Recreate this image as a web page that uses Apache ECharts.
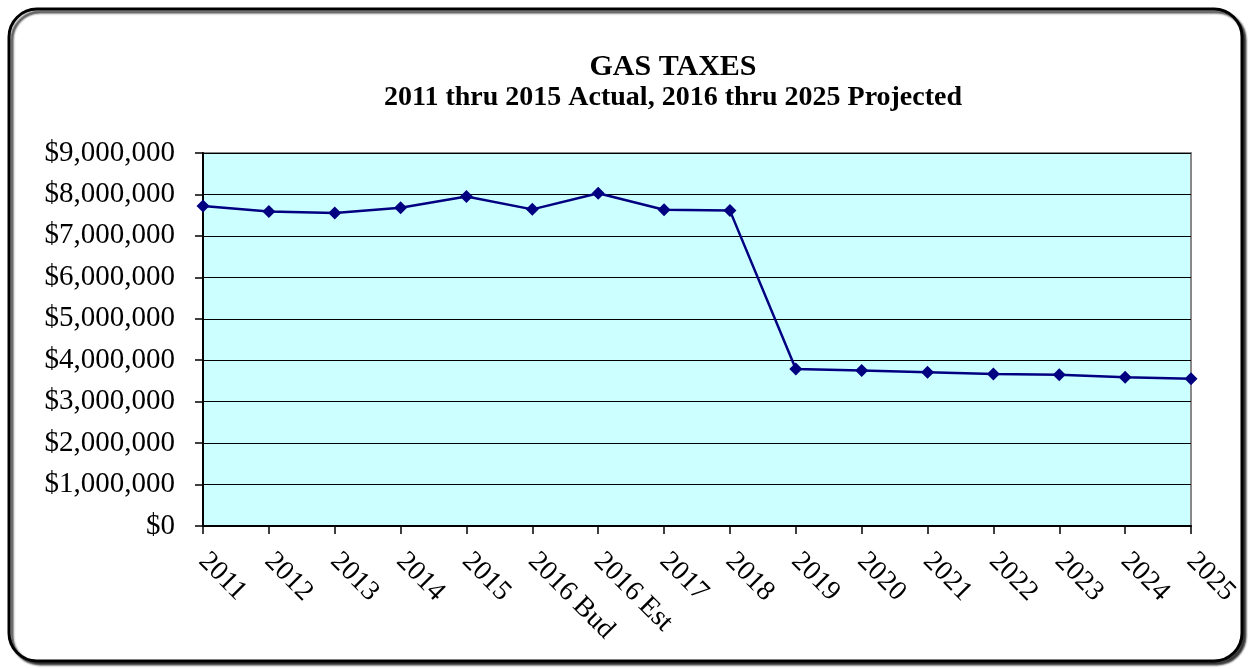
<!DOCTYPE html>
<html>
<head>
<meta charset="utf-8">
<title>Gas Taxes</title>
<script src="https://cdn.jsdelivr.net/npm/echarts@6/dist/echarts.min.js"></script>
<style>
  html, body { margin: 0; padding: 0; background: #fff; }
  #chart { width: 1248px; height: 669px; }
</style>
</head>
<body>
<div id="chart"></div>
<script>
// data
const years = ['2011', '2012', '2013', '2014', '2015', '2016 Bud', '2016 Est', '2017',
  '2018', '2019', '2020', '2021', '2022', '2023', '2024', '2025']
const gasTaxes = [7720000, 7590000, 7550000, 7680000, 7950000, 7640000, 8030000, 7630000,
  7610000, 3790000, 3750000, 3710000, 3670000, 3650000, 3590000, 3550000]
const titleText = 'GAS TAXES'
const subTitleText = '2011 thru 2015 Actual, 2016 thru 2025 Projected'

const serif = '"Liberation Serif", "DejaVu Serif", serif'

const money = v => '$' + v.toString().replace(/\B(?=(\d{3})+(?!\d))/g, ',')

const chart = echarts.init(document.getElementById('chart'))

const option = {
  animation: false,
  backgroundColor: '#fff',
  graphic: [
    {
      type: 'rect',
      z: -10,
      shape: { x: 9, y: 9, width: 1233, height: 652, r: 28 },
      style: {
        fill: '#fff',
        stroke: '#000',
        lineWidth: 3,
        shadowColor: 'rgba(0,0,0,0.7)',
        shadowOffsetX: 3,
        shadowOffsetY: 3,
        shadowBlur: 2
      }
    }
  ],
  title: [
    {
      text: titleText,
      left: 668,
      top: 47,
      textAlign: 'center',
      textStyle: { fontFamily: serif, fontSize: 30, fontWeight: 'bold', color: '#000' }
    },
    {
      text: subTitleText,
      left: 668,
      top: 79,
      textAlign: 'center',
      textStyle: { fontFamily: serif, fontSize: 28, fontWeight: 'bold', color: '#000' }
    }
  ],
  grid: {
    left: 203,
    top: 153,
    right: 57,
    bottom: 143,
    show: true,
    backgroundColor: '#ccffff',
    borderColor: '#888',
    borderWidth: 2
  },
  xAxis: {
    type: 'category',
    data: years,
    boundaryGap: false,
    axisLine: { lineStyle: { color: '#000', width: 2 } },
    axisTick: { show: true, length: 8, lineStyle: { color: '#000', width: 1.5 } },
    axisLabel: {
      interval: 0,
      rotate: -45,
      margin: 31,
      fontFamily: serif,
      fontSize: 28,
      color: '#000'
    }
  },
  yAxis: {
    type: 'value',
    min: 0,
    max: 9000000,
    interval: 1000000,
    axisLine: { show: true, lineStyle: { color: '#000', width: 2 } },
    axisTick: { show: true, length: 8, lineStyle: { color: '#000', width: 1.5 } },
    splitLine: { lineStyle: { color: '#000', width: 1 } },
    axisLabel: {
      margin: 28,
      fontFamily: serif,
      fontSize: 29,
      color: '#000',
      formatter: money
    }
  },
  series: [
    {
      type: 'line',
      data: gasTaxes,
      symbol: 'diamond',
      symbolSize: 13,
      itemStyle: { color: '#000080' },
      lineStyle: { color: '#000080', width: 2.5 }
    }
  ]
}

chart.setOption(option)
window.addEventListener('resize', () => { chart.resize() })
</script>
</body>
</html>
